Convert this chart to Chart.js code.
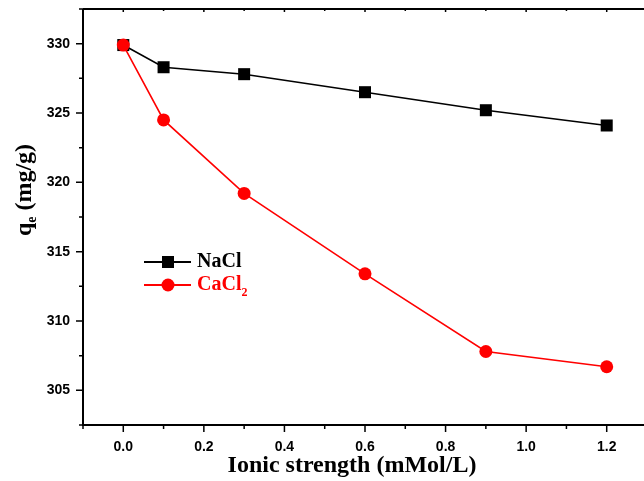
<!DOCTYPE html>
<html>
<head>
<meta charset="utf-8">
<script src="https://cdn.jsdelivr.net/npm/chart.js@4"></script>
<style>
  html, body { margin: 0; padding: 0; background: #fff; overflow: hidden; }
  #wrap { width: 660px; height: 481px; position: relative; }
</style>
</head>
<body>
<div id="wrap"><canvas id="chart"></canvas></div>
<script>
// === Data ===
const ionicStrength = [0, 0.1, 0.3, 0.6, 0.9, 1.2];
const naclValues = [329.9, 328.3, 327.8, 326.5, 325.2, 324.1];
const cacl2Values = [329.9, 324.5, 319.2, 313.4, 307.8, 306.7];
const xMajorTicks = [0, 0.2, 0.4, 0.6, 0.8, 1.0, 1.2];
const yMajorTicks = [305, 310, 315, 320, 325, 330];

const toPoints = vals => ionicStrength.map((x, i) => ({ x: x, y: vals[i] }));
const isMajor = (v, list) => list.some(t => Math.abs(t - v) < 1e-6);

// frame, ticks, titles and legend
const decorPlugin = {
  id: "decor",
  afterDraw(chart) {
    const { ctx, chartArea: a, scales } = chart;
    const xs = scales.x, ys = scales.y;
    ctx.save();
    ctx.strokeStyle = "#000";
    ctx.lineWidth = 2;
    ctx.beginPath();
    ctx.moveTo(a.left, a.top); ctx.lineTo(a.left, a.bottom);
    ctx.lineTo(a.right, a.bottom); ctx.lineTo(a.right, a.top);
    ctx.lineTo(a.left, a.top);
    ctx.stroke();

    ctx.lineWidth = 1.5;
    ctx.beginPath();
    xs.ticks.forEach(t => {
      const px = xs.getPixelForValue(t.value);
      const len = isMajor(t.value, xMajorTicks) ? 7 : 4;
      ctx.moveTo(px, a.bottom); ctx.lineTo(px, a.bottom + len);
      ctx.moveTo(px, a.top); ctx.lineTo(px, a.top + (len > 4 ? 3 : 2));
    });
    ys.ticks.forEach(t => {
      const py = ys.getPixelForValue(t.value);
      const len = isMajor(t.value, yMajorTicks) ? 7 : 4;
      ctx.moveTo(a.left, py); ctx.lineTo(a.left - len, py);
    });
    ctx.stroke();

    // x title
    ctx.fillStyle = "#000";
    ctx.font = "bold 24px 'Liberation Serif', 'Times New Roman', serif";
    ctx.textAlign = "center";
    ctx.textBaseline = "alphabetic";
    ctx.fillText("Ionic strength (mMol/L)", 352, 472);

    // y title with subscript
    ctx.translate(31, 190);
    ctx.rotate(-Math.PI / 2);
    const big = "bold 24px 'Liberation Serif', 'Times New Roman', serif";
    const small = "bold 14px 'Liberation Serif', 'Times New Roman', serif";
    ctx.font = big;
    const wq = ctx.measureText("q").width;
    const wr = ctx.measureText(" (mg/g)").width;
    ctx.font = small;
    const we = ctx.measureText("e").width;
    let x0 = -(wq + we + wr) / 2;
    ctx.textAlign = "left";
    ctx.font = big;
    ctx.fillText("q", x0, 0);
    ctx.font = small;
    ctx.fillText("e", x0 + wq, 5);
    ctx.font = big;
    ctx.fillText(" (mg/g)", x0 + wq + we, 0);
    ctx.restore();

    // legend
    ctx.save();
    const items = [
      { label: "NaCl", sub: "", color: "#000", style: "rect", y: 262 },
      { label: "CaCl", sub: "2", color: "#ff0000", style: "circle", y: 285 }
    ];
    items.forEach(it => {
      ctx.strokeStyle = it.color;
      ctx.fillStyle = it.color;
      ctx.lineWidth = 2;
      ctx.beginPath();
      ctx.moveTo(144, it.y); ctx.lineTo(191, it.y);
      ctx.stroke();
      if (it.style === "rect") {
        ctx.fillRect(162, it.y - 6, 12, 12);
      } else {
        ctx.beginPath();
        ctx.arc(168, it.y, 6.5, 0, Math.PI * 2);
        ctx.fill();
      }
      ctx.font = "bold 20px 'Liberation Serif', 'Times New Roman', serif";
      ctx.textAlign = "left";
      ctx.textBaseline = "middle";
      ctx.fillText(it.label, 197, it.y);
      if (it.sub) {
        const w = ctx.measureText(it.label).width;
        ctx.font = "bold 12px 'Liberation Serif', 'Times New Roman', serif";
        ctx.fillText(it.sub, 197 + w, it.y + 8);
      }
    });
    ctx.restore();
  }
};

new Chart(document.getElementById("chart"), {
  type: "line",
  data: {
    datasets: [
      {
        label: "CaCl2", data: toPoints(cacl2Values),
        borderColor: "#ff0000", backgroundColor: "#ff0000",
        borderWidth: 1.6, pointStyle: "circle", pointRadius: 6.5,
        pointBorderWidth: 0, tension: 0
      },
      {
        label: "NaCl", data: toPoints(naclValues),
        borderColor: "#000", backgroundColor: "#000",
        borderWidth: 1.6, pointStyle: "rect", pointRadius: 8.5,
        pointBorderWidth: 0, tension: 0
      }
    ]
  },
  options: {
    responsive: true,
    maintainAspectRatio: false,
    animation: false,
    layout: { padding: { top: 9, right: 13, left: 0, bottom: 0 } },
    plugins: { legend: { display: false }, tooltip: { enabled: false } },
    scales: {
      x: {
        type: "linear", min: -0.1, max: 1.3,
        grid: { display: false }, border: { display: false },
        ticks: {
          stepSize: 0.1, padding: 6, color: "#000",
          font: { family: "'Liberation Sans', Arial, sans-serif", size: 14, weight: "bold" },
          callback: v => isMajor(v, xMajorTicks) ? v.toFixed(1) : ""
        },
        afterFit: s => { s.height = 56; s.paddingLeft = 0; s.paddingRight = 0; }
      },
      y: {
        min: 302.5, max: 332.5,
        grid: { display: false }, border: { display: false },
        ticks: {
          stepSize: 2.5, padding: 5, color: "#000",
          font: { family: "'Liberation Sans', Arial, sans-serif", size: 14, weight: "bold" },
          callback: v => isMajor(v, yMajorTicks) ? String(v) : ""
        },
        afterFit: s => { s.width = 83; s.paddingTop = 0; s.paddingBottom = 0; }
      }
    }
  },
  plugins: [decorPlugin]
});
</script>
</body>
</html>
